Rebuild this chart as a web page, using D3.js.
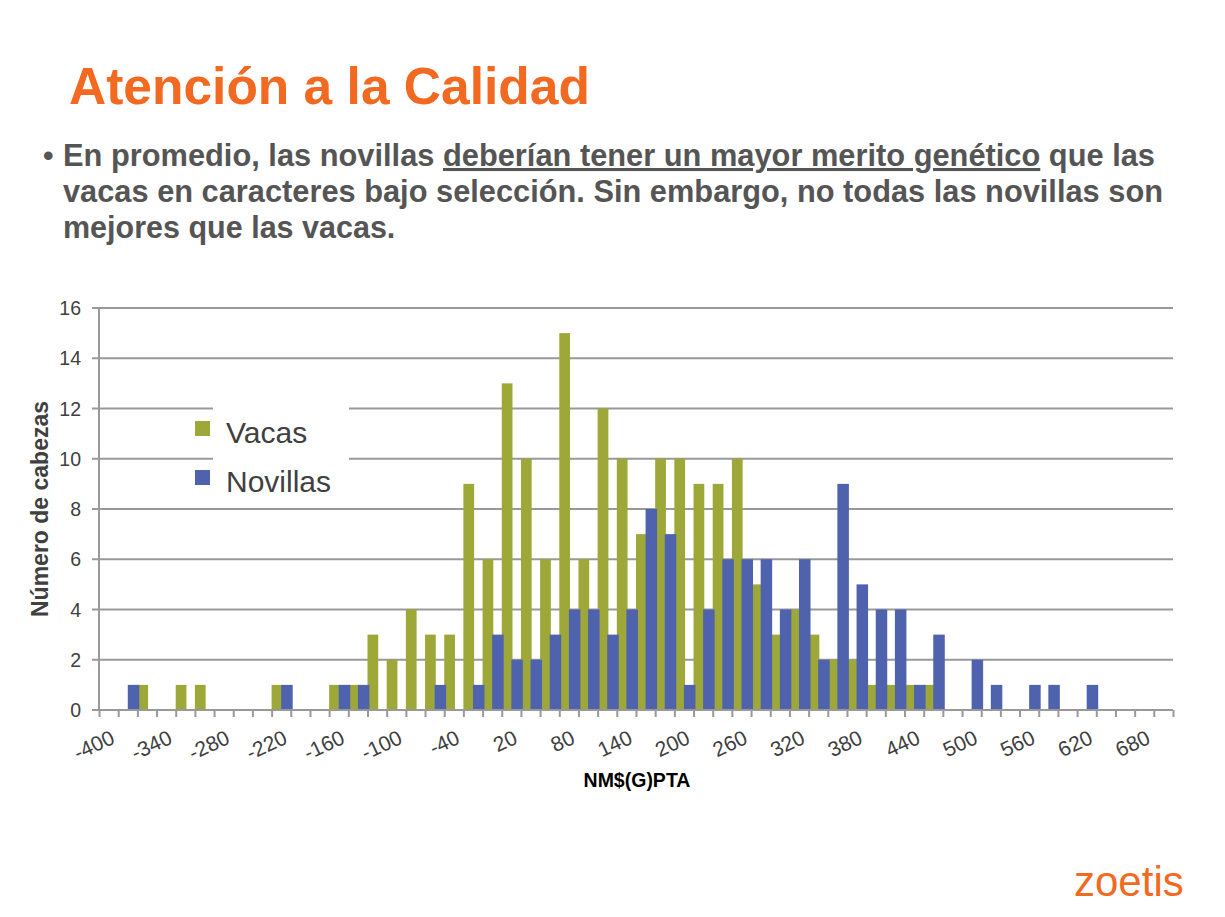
<!DOCTYPE html>
<html>
<head>
<meta charset="utf-8">
<script src="https://cdn.jsdelivr.net/npm/d3@7"></script>
<style>
  html, body { margin: 0; padding: 0; background: #ffffff; }
  svg { display: block; font-family: "Liberation Sans", Arial, sans-serif; }
</style>
</head>
<body>
<svg id="chart" width="1225" height="917"></svg>
<script>
// ---- data ----
const categories = [-400,-380,-360,-340,-320,-300,-280,-260,-240,-220,-200,-180,-160,-140,-120,-100,-80,-60,-40,-20,
  0,20,40,60,80,100,120,140,160,180,200,220,240,260,280,300,320,340,360,380,
  400,420,440,460,480,500,520,540,560,580,600,620,640,660,680,700];
const vacas = [0,0,1,0,1,1,0,0,0,1, 0,0,1,1,3,2,4,3,3,9, 6,13,10,6,15,6,12,10,7,10,
  10,9,9,10,5,3,4,3,2,2, 1,1,1,1,0,0,0,0,0,0, 0,0,0,0,0,0];
const novillas = [0,1,0,0,0,0,0,0,0,1, 0,0,1,1,0,0,0,1,0,1, 3,2,2,3,4,4,3,4,8,7,
  1,4,6,6,6,4,6,2,9,5, 4,4,1,3,0,2,1,0,1,1, 0,1,0,0,0,0];
const xTickLabels = [-400,-340,-280,-220,-160,-100,-40,20,80,140,200,260,320,380,440,500,560,620,680];
const yTicks = [0,2,4,6,8,10,12,14,16];
const seriesNames = ["Vacas", "Novillas"];
const seriesColors = ["#9ea838", "#4f62ad"];

const title = "Atención a la Calidad";
const bulletLines = [
  [{t:"En promedio, las novillas ", u:false}, {t:"deberían tener un mayor merito genético", u:true}, {t:" que las", u:false}],
  [{t:"vacas en caracteres bajo selección. Sin embargo, no todas las novillas son", u:false}],
  [{t:"mejores que las vacas.", u:false}]
];

// ---- layout ----
const svg = d3.select("#chart");
const L = 99, R = 1173, T = 308, B = 710;

const x = d3.scaleBand().domain(categories).range([L, R]).paddingInner(0).paddingOuter(0);
const xIdx = d3.scaleLinear().domain([0, categories.length]).range([L, R]);
const y = d3.scaleLinear().domain([0, 16]).range([B, T]);
const bw = x.bandwidth();

// title
svg.append("text").attr("x", 69).attr("y", 104)
  .attr("font-size", 51.5).attr("font-weight", "bold").attr("fill", "#f26a21")
  .text(title);

// bullet
svg.append("text").attr("x", 43).attr("y", 166).attr("font-size", 30)
  .attr("font-weight", "bold").attr("fill", "#555555").text("•");
const lineLens = [1092, 1100, null];
bulletLines.forEach((line, i) => {
  const t = svg.append("text").attr("x", 63).attr("y", 166 + i * 36)
    .attr("font-size", 30.5).attr("font-weight", "bold").attr("fill", "#555555")
    .attr("xml:space", "preserve");
  line.forEach(seg => {
    const ts = t.append("tspan").text(seg.t);
    if (seg.u) ts.style("text-decoration", "underline");
  });
  if (lineLens[i]) t.attr("textLength", lineLens[i]).attr("lengthAdjust", "spacingAndGlyphs");
});

// gridlines
const grid = svg.append("g");
grid.selectAll("line").data(yTicks).join("line")
  .attr("x1", L - 7).attr("x2", R)
  .attr("y1", d => y(d)).attr("y2", d => y(d))
  .attr("stroke", "#999999").attr("stroke-width", 2);

// y axis labels
svg.append("g").selectAll("text").data(yTicks).join("text")
  .attr("x", 81).attr("y", d => y(d)).attr("dy", "0.36em")
  .attr("text-anchor", "end").attr("font-size", 19.5).attr("fill", "#404040")
  .text(d => d);

// legend background (hides gridlines)
svg.append("rect").attr("x", 213).attr("y", 400).attr("width", 136).attr("height", 96).attr("fill", "#ffffff");

// bars
const barsG = svg.append("g");
[vacas, novillas].forEach((vals, s) => {
  barsG.append("g").selectAll("rect").data(categories.map((c, i) => ({c, v: vals[i]})).filter(d => d.v > 0))
    .join("rect")
    .attr("x", d => x(d.c) + (s === 0 ? 0 : bw * 0.5))
    .attr("width", s === 0 ? bw * 0.56 : bw * 0.6)
    .attr("y", d => y(d.v))
    .attr("height", d => y(0) - y(d.v))
    .attr("fill", seriesColors[s]);
});

// axes lines
svg.append("line").attr("x1", L).attr("x2", L).attr("y1", T).attr("y2", B)
  .attr("stroke", "#999999").attr("stroke-width", 2);
const xAxis = d3.axisBottom(xIdx).tickValues(d3.range(categories.length + 1)).tickSize(7).tickFormat("");
const xa = svg.append("g").attr("transform", `translate(0,${B})`).call(xAxis);
xa.select(".domain").attr("stroke", "#999999").attr("stroke-width", 2).attr("d", `M${L},0H${R}`);
xa.selectAll(".tick line").attr("stroke", "#999999").attr("stroke-width", 2);

// x tick labels
svg.append("g").selectAll("text").data(xTickLabels).join("text")
  .attr("transform", d => `translate(${x(d) + bw / 2 + 1},${B + 19}) rotate(-25)`)
  .attr("text-anchor", "end").attr("dy", "0.72em")
  .attr("font-size", 21).attr("fill", "#404040")
  .text(d => d);

// axis titles
svg.append("text").attr("x", 637).attr("y", 787).attr("text-anchor", "middle")
  .attr("font-size", 19.5).attr("font-weight", "bold").attr("fill", "#000000")
  .text("NM$(G)PTA");
svg.append("text").attr("transform", "translate(48,509) rotate(-90)")
  .attr("text-anchor", "middle").attr("font-size", 23).attr("font-weight", "bold").attr("fill", "#404040")
  .text("Número de cabezas");

// legend
const leg = svg.append("g");
seriesNames.forEach((n, i) => {
  leg.append("rect").attr("x", 195).attr("y", 421 + i * 49).attr("width", 15).attr("height", 15)
    .attr("fill", seriesColors[i]);
  leg.append("text").attr("x", 226).attr("y", 443 + i * 49)
    .attr("font-size", 30).attr("fill", "#404040").text(n);
});

// logo
svg.append("text").attr("x", 1074).attr("y", 896)
  .attr("font-size", 42).attr("fill", "#f26a21")
  .text("zoetis");
</script>
</body>
</html>
